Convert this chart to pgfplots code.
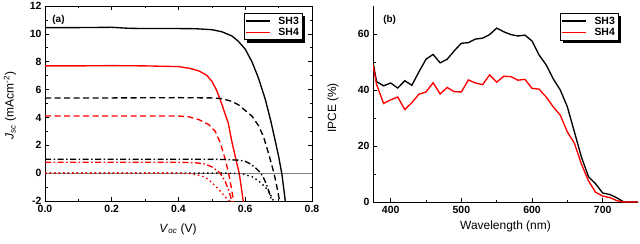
\documentclass[border=0pt]{standalone}
\usepackage{pgfplots}
\pgfplotsset{compat=1.18}
\usepackage{fontspec}
\setmainfont{Liberation Sans}
\begin{document}
\begin{tikzpicture}[x=1bp,y=1bp]
\useasboundingbox (0,0) rectangle (640,243);
\pgfplotsset{
  every axis/.append style={
    scale only axis,
    tick align=inside,
    /pgf/number format/assume math mode=true,
    tick label style={font=\bfseries\fontsize{10.5}{12}\selectfont},
    label style={font=\fontsize{12}{14}\selectfont},
    major tick length=4bp, minor tick length=2.5bp,
    axis line style={line width=0.8pt},
    every tick/.style={line width=0.6pt, black},
    legend cell align=left,
    legend image code/.code={\draw[#1, line width=1.6bp] (0bp,0bp) -- (24bp,0bp);},
  },
}
\begin{axis}[
  at={(45bp,42bp)}, anchor=south west,
  width=267bp, height=195bp,
  xmin=0, xmax=0.8, ymin=-2, ymax=12,
  xtick={0,0.2,0.4,0.6,0.8}, minor x tick num=1,
  ytick={-2,0,2,4,6,8,10,12}, minor y tick num=1,
  xticklabel style={yshift=-1bp, /pgf/number format/.cd, fixed, fixed zerofill, precision=1},
  xlabel={\textit{V}\textsubscript{\textit{oc}} (V)},
  ylabel={\textit{J}\textsubscript{\textit{sc}} (mAcm\textsuperscript{-2})},
  xlabel style={at={(axis description cs:0.498,-0.144)}, anchor=center},
  ylabel style={at={(axis description cs:-0.131,0.49)}, anchor=center},
  legend style={name=legA, at={(rel axis cs:0.963,0.962)}, anchor=north east, draw=black, line width=0.6pt, fill=white,
    font=\bfseries\fontsize{10.5}{12}\selectfont, inner sep=1bp, row sep=-1.5bp,
    /tikz/every odd column/.append style={column sep=6bp}},
  clip=true,
]
\addplot[gray, line width=0.6pt, forget plot] coordinates {(0,0) (0.8,0)};
% SH3 solid
\addplot[black, line width=1.35pt] coordinates {
(0,10.45) (0.1,10.45) (0.2,10.47) (0.25,10.4) (0.3,10.38) (0.4,10.38) (0.45,10.37) (0.5,10.3)
(0.53,10.15) (0.56,9.85) (0.58,9.45) (0.6,8.9) (0.62,8.0) (0.64,6.8) (0.66,5.3) (0.676,3.8)
(0.69,2.3) (0.70,1.2) (0.71,-0.1) (0.72,-2) (0.722,-2.5)};
\addlegendentry{SH3}
% SH4 solid
\addplot[red, line width=1.35pt] coordinates {
(0,7.7) (0.1,7.7) (0.2,7.72) (0.3,7.7) (0.4,7.65) (0.434,7.52) (0.46,7.35) (0.484,7.04)
(0.5,6.6) (0.514,5.96) (0.53,4.95) (0.539,4.28) (0.549,3.6) (0.559,2.36) (0.57,1.2)
(0.582,0) (0.594,-2) (0.596,-2.5)};
\addlegendentry{SH4}
% dashed
\addplot[black, line width=1.35pt, dash pattern=on 6bp off 3.5bp, forget plot] coordinates {
(0,5.4) (0.2,5.4) (0.4,5.42) (0.5,5.4) (0.53,5.35) (0.56,5.15) (0.58,4.9) (0.6,4.5)
(0.62,4.1) (0.64,3.4) (0.655,2.6) (0.67,1.4) (0.686,0) (0.695,-1) (0.703,-2) (0.705,-2.5)};
\addplot[red, line width=1.35pt, dash pattern=on 6bp off 3.5bp, forget plot] coordinates {
(0,4.1) (0.2,4.1) (0.4,4.1) (0.43,4.05) (0.46,3.85) (0.49,3.5) (0.51,3.0) (0.525,2.2)
(0.54,1.0) (0.55,0) (0.558,-1) (0.565,-2) (0.567,-2.5)};
% dash-dot
\addplot[black, line width=1.35pt, dash pattern=on 6bp off 2.5bp on 1.5bp off 2.5bp, forget plot] coordinates {
(0,1.0) (0.3,1.0) (0.5,1.0) (0.55,0.97) (0.58,0.93) (0.6,0.85) (0.614,0.68) (0.63,0.4)
(0.645,0.05) (0.654,-0.28) (0.665,-0.9) (0.672,-1.4) (0.68,-2) (0.682,-2.5)};
\addplot[red, line width=1.35pt, dash pattern=on 6bp off 2.5bp on 1.5bp off 2.5bp, forget plot] coordinates {
(0,0.78) (0.2,0.78) (0.4,0.78) (0.45,0.75) (0.48,0.65) (0.5,0.45) (0.515,0.2) (0.525,0)
(0.54,-0.6) (0.55,-1.2) (0.56,-2) (0.562,-2.5)};
% dotted
\addplot[black, line width=1.35pt, dash pattern=on 1.5bp off 3bp, forget plot] coordinates {
(0,0) (0.3,0) (0.55,0) (0.59,-0.05) (0.62,-0.25) (0.64,-0.55) (0.66,-1.0) (0.675,-1.5)
(0.685,-2) (0.687,-2.5)};
\addplot[red, line width=1.35pt, dash pattern=on 1.5bp off 3bp, forget plot] coordinates {
(0,0) (0.2,0) (0.4,0) (0.44,-0.05) (0.47,-0.2) (0.49,-0.45) (0.505,-0.8) (0.52,-1.15)
(0.54,-1.7) (0.553,-2) (0.555,-2.5)};
\node[anchor=north west, font=\bfseries\fontsize{10}{12}\selectfont, inner sep=0pt] at (rel axis cs:0.027,0.955) {(a)};
\end{axis}
\fill[black] ([shift={(3bp,-3bp)}]legA.south west) rectangle (legA.south east);
\fill[black] ([shift={(0bp,-3bp)}]legA.north east) rectangle ([shift={(3bp,-3bp)}]legA.south east);

\begin{axis}[
  at={(373bp,41bp)}, anchor=south west,
  width=265bp, height=196bp,
  axis x line*=bottom, axis y line*=left,
  xmin=375, xmax=750, ymin=0, ymax=70,
  xtick={400,500,600,700}, minor x tick num=1,
  ytick={0,20,40,60}, minor y tick num=1,
  xticklabel style={yshift=-1bp},
  xlabel={Wavelength (nm)},
  ylabel={IPCE (\%)},
  xlabel style={at={(axis description cs:0.50,-0.126)}, anchor=center},
  ylabel style={at={(axis description cs:-0.151,0.48)}, anchor=center},
  legend style={name=legB, at={(rel axis cs:0.925,0.962)}, anchor=north east, draw=black, line width=0.6pt, fill=white,
    font=\bfseries\fontsize{10.5}{12}\selectfont, inner sep=1bp, row sep=-1.5bp,
    /tikz/every odd column/.append style={column sep=6bp}},
]
\addplot[black, line width=1.35pt] coordinates {
(375,50) (380,43) (390,41.5) (400,42.5) (410,40.7) (420,43.3) (430,41.7) (440,46.5)
(450,51) (460,52.7) (470,49.7) (480,51) (490,54) (500,56.7) (510,56.9) (520,58.2)
(530,58.5) (540,59.8) (550,62.1) (560,60.8) (570,59.8) (580,59.3) (590,59.6) (600,57.5)
(610,52.5) (620,49) (630,44) (640,40) (650,34) (660,25) (670,16) (680,9) (690,6.5)
(700,3.2) (710,2.7) (720,1.5) (730,0) (740,0) (750,0)};
\addlegendentry{SH3}
\addplot[red, line width=1.35pt] coordinates {
(375,49) (380,42) (390,35.2) (400,36.5) (410,37.5) (420,33) (430,35.5) (440,38.5)
(450,39.3) (460,42.6) (470,38.6) (480,40.9) (490,39.4) (500,39.3) (510,43.6) (520,42.5)
(530,41.9) (540,45.4) (550,42.8) (560,44.9) (570,44.8) (580,43.5) (590,43.8) (600,40.6)
(610,40.3) (620,37.5) (630,34) (640,31) (650,25) (660,21) (670,13.5) (680,7.5) (690,3.5)
(700,2.1) (710,1.6) (720,0.5) (730,0) (740,0) (750,0)};
\addlegendentry{SH4}
\node[anchor=north west, font=\bfseries\fontsize{10}{12}\selectfont, inner sep=0pt] at (rel axis cs:0.038,0.955) {(b)};
\end{axis}
\fill[black] ([shift={(3bp,-3bp)}]legB.south west) rectangle (legB.south east);
\fill[black] ([shift={(0bp,-3bp)}]legB.north east) rectangle ([shift={(3bp,-3bp)}]legB.south east);
\end{tikzpicture}
\end{document}
